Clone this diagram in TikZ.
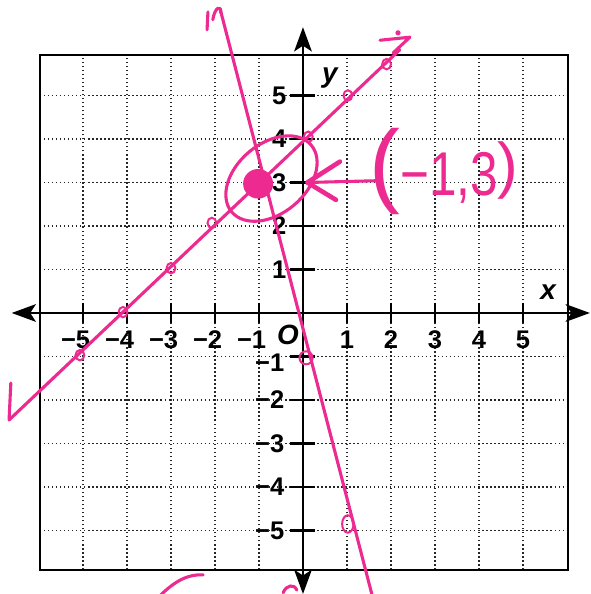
\documentclass[tikz,border=0pt]{standalone}
\usepackage{fontspec}
\usepackage{graphicx}
\setmainfont{Liberation Sans}
\usetikzlibrary{arrows.meta}
\definecolor{pen}{RGB}{236,42,143}
\begin{document}
\begin{tikzpicture}[x=1cm,y=0.98864cm,
  gridline/.style={line width=0.8pt, dash pattern=on 0.9pt off 1.7pt, black!85},
  frame/.style={line width=1.3pt, black},
  axisline/.style={line width=1.5pt, black, {Stealth[length=5.5mm,width=4mm,inset=1.3mm]}-{Stealth[length=5.5mm,width=4mm,inset=1.3mm]}},
  tick/.style={line width=1.5pt, black},
  numlab/.style={inner sep=0pt, font=\fontsize{16.5}{16.5}\selectfont\bfseries},
  varlab/.style={inner sep=0pt, font=\fontsize{18}{18}\selectfont\bfseries\itshape},
  penline/.style={pen, line width=2pt, line cap=round, line join=round},
  penthin/.style={pen, line width=1.3pt, line cap=round},
  penthick/.style={pen, line width=3pt, line cap=round, line join=round},
]
\useasboundingbox (-6.886,-6.460) rectangle (6.545,7.195);

% grid
\foreach \i in {-5,...,5} {
  \draw[gridline] (\i,-5.9) -- (\i,5.93);
  \draw[gridline] (-5.98,\i) -- (6.02,\i);
}
% frame
\draw[frame] (-5.98,-5.9) rectangle (6.02,5.93);

% axes
\coordinate (xL) at (-6.62,0);
\coordinate (xR) at (6.52,0);
\coordinate (yB) at (0,-6.46);
\coordinate (yT) at (0,6.57);
\draw[axisline] (xL) -- (xR);
\draw[axisline] (yB) -- (yT);

% ticks and labels
\foreach \i in {1,...,5} {
  \draw[tick] (\i,0.23) -- (\i,-0.23);
  \draw[tick] (-\i,0.23) -- (-\i,-0.23);
  \draw[tick] (-0.3,\i) -- (0.27,\i);
  \draw[tick] (-0.3,-\i) -- (0.27,-\i);
  \node[numlab, anchor=north] (xp\i) at (\i,-0.41) {\i};
  \node[numlab, anchor=north east] (xn\i) at (-\i+0.17,-0.41) {−\i};
  \node[numlab, anchor=east] (yp\i) at (-0.37,\i) {\i};
}
\foreach \i in {2,...,5} {
  \node[numlab, anchor=east] (yn\i) at (-0.42,-\i) {−\i};
}
\node[numlab, anchor=east] (yn1) at (-0.42,-1.15) {−1};
\node[varlab] (xlab) at (5.57,0.48) {x};
\node[varlab] (ylab) at (0.61,5.40) {y};
\node[varlab] (olab) at (-0.34,-0.51) {O};

% ---------- pen marks ----------
% line y = x + 4
\coordinate (A1) at (-6.68,-2.46);
\coordinate (A2) at (2.2,6.05);
\coordinate (A1w) at (-6.64,-1.61);
\draw[penline] (A1w) -- (A1) -- (A2);
\draw[penline] (1.75,6.27) -- (2.43,6.34) -- (2.05,5.98);
\fill[pen] (2.16,6.44) circle (0.06);

% steep line
\coordinate (B1) at (-1.886,7.0);
\coordinate (B2) at (1.6,-6.6);
\draw[penline] (B1) -- (B2);
\draw[penline] (-2.18,6.51) -- (-2.16,6.92);
\draw[penline] (-2.05,6.74) .. controls (-2.0,7.05) and (-1.85,7.08) .. (-1.87,6.9);

% plotted point marks
\foreach \p in {(-5.07,-0.97),(-4.09,0.02),(-3.0,1.03),(-2.07,2.07),(0.12,4.05),(1.02,5.0),(1.9,5.72)} {
  \draw[penthin] \p ellipse [x radius=0.1, y radius=0.12];
}
\draw[penthin] (0.07,-1.03) ellipse [x radius=0.15, y radius=0.15];
\draw[penthin] (1.02,-4.85) ellipse [x radius=0.13, y radius=0.2];

% the solution point
\fill[pen] (-1.02,2.97) circle (0.34);
\draw[penline] (-0.716,3.09) ellipse [x radius=1.18, y radius=0.80, rotate=40];

% arrow to the point
\coordinate (S1) at (1.66,3.04);
\coordinate (S2) at (0.1,3.0);
\coordinate (W1) at (0.84,3.48);
\coordinate (W2) at (0.75,2.6);
\draw[penline] (S1) -- (S2);
\draw[penthick] (W1) -- (S2) -- (W2);

% the label
\node[pen, anchor=base west, inner sep=0pt] (sol) at (1.50,2.71)
  {{\fontsize{60}{60}\selectfont(}\scalebox{0.8}[1]{\fontsize{40}{40}\selectfont −1,3}{\fontsize{40}{40}\selectfont\raisebox{0.2cm}{)}}};

% bottom fragments
\draw[penline] (-3.25,-6.5) .. controls (-2.9,-6.15) and (-2.6,-6.0) .. (-2.27,-6.02);
\draw[penline] (-0.45,-6.43) .. controls (-0.38,-6.25) and (-0.2,-6.22) .. (-0.14,-6.37);
\end{tikzpicture}
\end{document}
